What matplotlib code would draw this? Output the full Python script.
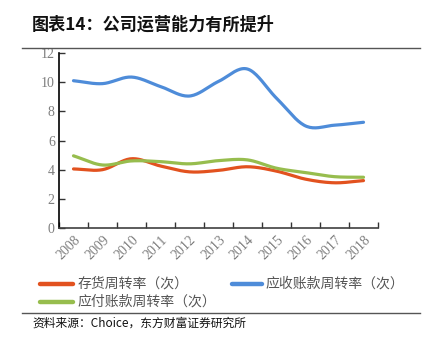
import numpy as np
import matplotlib
matplotlib.use("Agg")
import matplotlib.pyplot as plt
from matplotlib.lines import Line2D

plt.rcParams['font.family'] = ['Noto Sans CJK SC', 'DejaVu Sans']

years = ['2008', '2009', '2010', '2011', '2012', '2013', '2014', '2015', '2016', '2017', '2018']
inventory_turnover = [4.05, 4.0, 4.75, 4.25, 3.85, 3.95, 4.2, 3.9, 3.35, 3.1, 3.25]
receivable_turnover = [10.1, 9.9, 10.35, 9.7, 9.05, 10.05, 10.9, 8.9, 7.0, 7.05, 7.25]
payable_turnover = [4.95, 4.32, 4.6, 4.55, 4.4, 4.62, 4.67, 4.1, 3.8, 3.52, 3.48]
series_names = ['存货周转率（次）', '应收账款周转率（次）', '应付账款周转率（次）']
colors = ['#E2521F', '#4E8CD9', '#97BD4E']
yticks = [0, 2, 4, 6, 8, 10, 12]

W, H = 429, 348
fig = plt.figure(figsize=(W / 100, H / 100), dpi=100)

def smooth(x, y, n=20):
    x = np.asarray(x, float); y = np.asarray(y, float)
    P = np.column_stack([x, y])
    P = np.vstack([2 * P[0] - P[1], P, 2 * P[-1] - P[-2]])
    out = []
    for i in range(1, len(P) - 2):
        p0, p1, p2, p3 = P[i - 1], P[i], P[i + 1], P[i + 2]
        t = np.linspace(0, 1, n, endpoint=False)[:, None]
        seg = 0.5 * ((2 * p1) + (-p0 + p2) * t + (2 * p0 - 5 * p1 + 4 * p2 - p3) * t ** 2
                     + (-p0 + 3 * p1 - 3 * p2 + p3) * t ** 3)
        out.append(seg)
    out.append(P[-2][None, :])
    out = np.vstack(out)
    return out[:, 0], out[:, 1]

ax = fig.add_axes([59 / W, (H - 228) / H, (378 - 59) / W, (228 - 53) / H])
xs = np.arange(len(years))
data = [inventory_turnover, receivable_turnover, payable_turnover]
for vals, c, name in zip(data, colors, series_names):
    sx, sy = smooth(xs, vals)
    ax.plot(sx, sy, color=c, lw=2.3, solid_capstyle='round', label=name)

ax.set_xlim(-0.5, len(years) - 0.5)
ax.set_ylim(0, 12)
ax.set_yticks(yticks)
ax.set_yticklabels([str(v) for v in yticks], family='Liberation Serif', fontsize=10, color='#7f7f7f')
ax.set_xticks(np.arange(-0.5, len(years), 1.0))
ax.set_xticklabels([])
ax.set_xticks(xs, minor=True)
ax.set_xticklabels(years, minor=True, rotation=45, ha='right', va='top', rotation_mode='anchor',
                   family='Liberation Serif', fontsize=10, color='#7f7f7f')
ax.tick_params(axis='x', which='minor', length=0, pad=4)
ax.tick_params(axis='x', which='major', direction='in', length=4, width=1, color='#333333')
ax.tick_params(axis='y', direction='in', length=4, width=1, color='#333333', pad=3)
for s in ['top', 'right']:
    ax.spines[s].set_visible(False)
ax.spines['left'].set_color('#000000')
ax.spines['bottom'].set_color('#404040')
ax.spines['left'].set_linewidth(1.2)
ax.spines['bottom'].set_linewidth(1.2)

# legend drawn manually in figure pixel coordinates
legend_pos = [(40, 73, 78, 284), (232, 262, 266, 284), (40, 73, 78, 302)]
for (x0, x1, tx, yy), c, name in zip(legend_pos, colors, series_names):
    fig.add_artist(Line2D([x0 / W, x1 / W], [1 - yy / H, 1 - yy / H], color=c, lw=3.2,
                          solid_capstyle='round'))
    fig.text(tx / W, 1 - yy / H, name, fontsize=10, va='center', ha='left', color='#555555')

fig.text(32 / W, 1 - 25 / H, '图表14：公司运营能力有所提升', fontsize=12.3, fontweight='bold',
         va='center', ha='left', color='#111111')
fig.add_artist(Line2D([22 / W, 420 / W], [1 - 48 / H, 1 - 48 / H], color='#555555', lw=1.0))
fig.add_artist(Line2D([22 / W, 420 / W], [1 - 313 / H, 1 - 313 / H], color='#555555', lw=1.0))
fig.text(32 / W, 1 - 323 / H, '资料来源：Choice，东方财富证券研究所', fontsize=8.5,
         va='center', ha='left', color='#111111')

fig.savefig('out.png', dpi=100)
